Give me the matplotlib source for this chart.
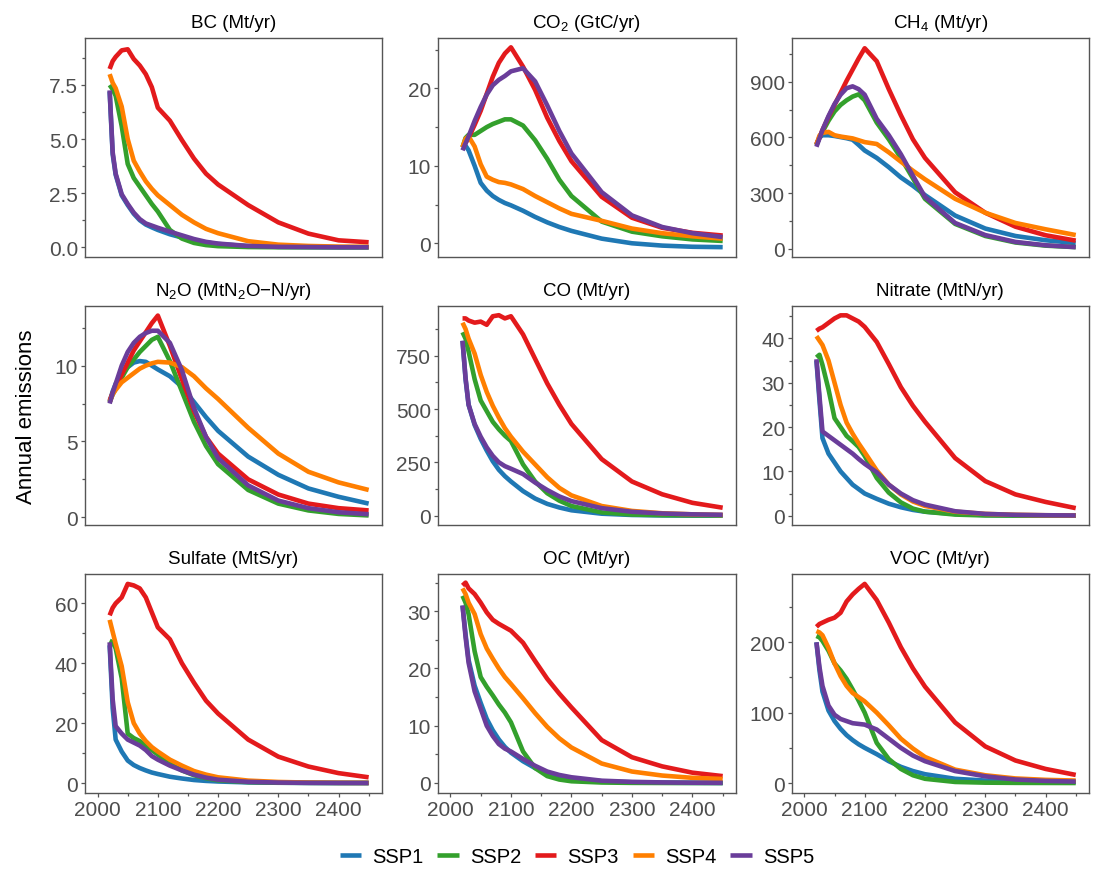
import matplotlib
matplotlib.use("Agg")
import matplotlib.pyplot as plt
from matplotlib.ticker import AutoMinorLocator, FormatStrFormatter, FixedLocator
from matplotlib.lines import Line2D

plt.rcParams['font.family'] = 'Liberation Sans'
plt.rcParams['mathtext.fontset'] = 'custom'
plt.rcParams['mathtext.rm'] = 'Liberation Sans'

# --- data ---
years = [2020, 2025, 2030, 2040, 2050, 2060, 2070, 2080, 2090, 2100, 2120,
         2140, 2160, 2180, 2200, 2250, 2300, 2350, 2400, 2450]

scenarios = ['SSP1', 'SSP2', 'SSP3', 'SSP4', 'SSP5']
colors = ['#1f78b4', '#33a02c', '#e31a1c', '#ff7f00', '#6a3d9a']

# each species: one list per scenario, SSP1..SSP5
bc = [
    [7.2, 4.3, 3.35, 2.4, 1.95, 1.55, 1.25, 1.05, 0.92, 0.8, 0.6, 0.45, 0.32, 0.22, 0.15, 0.05, 0.02, 0.01, 0.0, 0.0],
    [7.5, 7.3, 7.0, 5.6, 3.85, 3.2, 2.8, 2.4, 2.0, 1.65, 0.8, 0.4, 0.2, 0.1, 0.05, 0.01, 0.0, 0.0, 0.0, 0.0],
    [8.24, 8.6, 8.8, 9.1, 9.15, 8.7, 8.4, 8.0, 7.4, 6.45, 5.85, 4.95, 4.1, 3.4, 2.9, 1.95, 1.15, 0.63, 0.32, 0.23],
    [8.0, 7.6, 7.35, 6.5, 5.0, 4.0, 3.5, 3.05, 2.7, 2.4, 1.95, 1.5, 1.15, 0.85, 0.65, 0.28, 0.12, 0.06, 0.03, 0.02],
    [7.25, 4.4, 3.4, 2.45, 2.0, 1.6, 1.3, 1.1, 1.0, 0.9, 0.72, 0.55, 0.38, 0.25, 0.17, 0.06, 0.02, 0.01, 0.0, 0.0],
]
co2 = [
    [12.4, 12.6, 12.0, 10.0, 7.8, 6.8, 6.1, 5.6, 5.2, 4.9, 4.2, 3.4, 2.7, 2.1, 1.6, 0.6, 0.0, -0.3, -0.45, -0.5],
    [12.4, 13.6, 14.0, 14.0, 14.5, 15.0, 15.4, 15.7, 16.0, 16.0, 15.2, 13.3, 10.9, 8.2, 6.1, 2.8, 1.5, 0.9, 0.5, 0.3],
    [12.4, 13.0, 13.6, 15.3, 17.1, 19.3, 21.5, 23.3, 24.5, 25.3, 22.8, 19.8, 16.2, 13.2, 10.6, 6.0, 3.3, 2.0, 1.35, 1.0],
    [12.4, 13.5, 13.8, 12.5, 10.2, 8.6, 8.2, 7.9, 7.8, 7.6, 7.0, 6.1, 5.3, 4.5, 3.8, 2.9, 1.9, 1.3, 0.9, 0.6],
    [12.0, 12.9, 13.8, 15.8, 17.6, 19.2, 20.4, 21.1, 21.6, 22.2, 22.6, 20.9, 17.8, 14.5, 11.6, 6.6, 3.6, 2.1, 1.3, 0.8],
]
ch4 = [
    [560, 600, 612, 612, 608, 602, 596, 588, 560, 530, 490, 440, 385, 340, 290, 180, 110, 70, 47, 32],
    [560, 600, 630, 690, 740, 775, 800, 820, 832, 800, 680, 590, 490, 380, 270, 135, 70, 35, 18, 10],
    [565, 600, 640, 710, 775, 840, 905, 965, 1025, 1080, 1010, 860, 720, 590, 490, 305, 195, 120, 74, 45],
    [560, 610, 625, 630, 612, 605, 600, 595, 585, 575, 565, 520, 470, 421, 375, 270, 195, 140, 106, 75],
    [550, 595, 640, 715, 780, 830, 865, 875, 860, 830, 700, 612, 510, 394, 280, 140, 75, 38, 20, 10],
]
n2o = [
    [7.6, 8.3, 8.8, 9.5, 9.9, 10.2, 10.3, 10.25, 10.0, 9.75, 9.3, 8.6, 7.6, 6.6, 5.7, 4.0, 2.8, 1.9, 1.35, 0.9],
    [7.6, 8.1, 8.5, 9.2, 9.9, 10.4, 10.9, 11.3, 11.7, 11.9, 10.3, 8.3, 6.3, 4.7, 3.5, 1.8, 0.9, 0.45, 0.22, 0.12],
    [7.7, 8.2, 8.6, 9.4, 10.2, 11.0, 11.6, 12.2, 12.8, 13.3, 11.3, 9.1, 7.0, 5.3, 4.2, 2.5, 1.5, 0.9, 0.6, 0.45],
    [7.6, 8.1, 8.4, 8.9, 9.2, 9.5, 9.8, 10.0, 10.15, 10.25, 10.2, 9.9, 9.3, 8.5, 7.8, 5.9, 4.2, 3.0, 2.3, 1.8],
    [7.5, 8.2, 8.8, 10.0, 10.9, 11.5, 11.9, 12.15, 12.3, 12.3, 11.5, 9.7, 7.2, 5.3, 3.9, 2.1, 1.1, 0.6, 0.33, 0.2],
]
co = [
    [820, 640, 520, 425, 360, 305, 255, 215, 185, 160, 115, 80, 55, 38, 25, 9, 3, 1, 0, 0],
    [860, 830, 770, 640, 540, 490, 440, 405, 375, 350, 240, 160, 105, 70, 45, 15, 5, 2, 1, 1],
    [925, 925, 915, 905, 910, 895, 935, 940, 925, 935, 850, 735, 620, 520, 430, 265, 160, 100, 60, 37],
    [905, 875, 830, 760, 660, 580, 515, 460, 410, 370, 300, 240, 180, 130, 95, 45, 22, 11, 6, 3],
    [820, 645, 520, 430, 370, 320, 280, 250, 232, 220, 195, 155, 120, 90, 68, 35, 18, 10, 6, 4],
]
nitrate = [
    [35.0, 26.0, 17.5, 14.0, 12.0, 10.0, 8.5, 7.0, 6.0, 5.0, 3.8, 2.7, 1.9, 1.3, 0.9, 0.4, 0.15, 0.05, 0.02, 0.0],
    [35.7, 36.3, 34.0, 28.5, 22.0, 20.0, 18.0, 16.8, 15.5, 13.5, 8.5, 5.2, 3.0, 1.6, 0.9, 0.25, 0.05, 0.02, 0.0, 0.0],
    [41.7, 42.2, 42.5, 43.5, 44.5, 45.2, 45.2, 44.5, 43.8, 42.6, 39.2, 34.2, 29.0, 24.8, 21.2, 13.0, 7.8, 4.8, 3.1, 1.7],
    [40.5, 39.5, 38.5, 35.0, 30.0, 25.0, 21.0, 18.5, 16.3, 14.3, 10.2, 7.0, 4.8, 3.2, 2.2, 0.9, 0.4, 0.2, 0.1, 0.05],
    [35.3, 27.0, 19.0, 18.0, 17.0, 16.0, 15.0, 14.0, 12.8, 11.7, 9.8, 7.0, 5.0, 3.5, 2.5, 1.0, 0.4, 0.2, 0.1, 0.05],
]
sulfate = [
    [46.0, 25.0, 14.5, 10.5, 7.5, 6.0, 5.0, 4.2, 3.5, 3.0, 2.1, 1.5, 1.0, 0.7, 0.5, 0.2, 0.08, 0.03, 0.01, 0.0],
    [47.5, 47.0, 45.0, 35.0, 16.5, 15.0, 14.0, 12.5, 11.0, 9.5, 6.5, 4.2, 2.6, 1.6, 0.9, 0.3, 0.1, 0.05, 0.0, 0.0],
    [56.0, 58.5, 60.0, 62.0, 66.5, 66.0, 65.0, 62.0, 57.0, 52.0, 48.0, 40.0, 33.5, 27.5, 23.2, 14.5, 8.8, 5.5, 3.3, 1.9],
    [54.5, 50.5, 46.5, 39.0, 27.0, 20.0, 16.5, 14.0, 12.0, 10.5, 7.8, 5.8, 4.0, 2.8, 1.9, 0.8, 0.35, 0.15, 0.08, 0.05],
    [47.0, 28.0, 19.0, 16.5, 14.5, 13.5, 12.5, 11.0, 9.0, 7.8, 5.8, 4.2, 2.8, 1.8, 1.1, 0.4, 0.15, 0.05, 0.02, 0.0],
]
oc = [
    [31.0, 26.0, 21.5, 17.0, 14.0, 11.2, 9.2, 7.6, 6.3, 5.3, 3.8, 2.6, 1.8, 1.2, 0.8, 0.3, 0.12, 0.05, 0.02, 0.0],
    [32.7, 31.5, 29.5, 23.0, 18.5, 16.8, 15.3, 13.7, 12.3, 10.6, 5.5, 2.6, 1.2, 0.6, 0.3, 0.08, 0.02, 0.0, 0.0, 0.0],
    [34.5, 35.0, 34.0, 33.0, 31.5, 29.8, 28.5, 27.8, 27.2, 26.6, 24.5, 21.3, 18.2, 15.6, 13.2, 7.5, 4.5, 2.9, 1.8, 1.2],
    [34.0, 33.0, 31.5, 29.5, 26.0, 23.5, 21.7, 20.0, 18.5, 17.3, 14.8, 12.2, 9.8, 7.8, 6.2, 3.4, 2.0, 1.3, 0.9, 0.7],
    [31.0, 25.5, 21.0, 16.0, 13.0, 10.0, 8.2, 6.8, 6.0, 5.5, 4.2, 3.0, 2.0, 1.4, 1.0, 0.4, 0.2, 0.1, 0.05, 0.03],
]
voc = [
    [200, 160, 130, 103, 88, 77, 68, 61, 55, 50, 41, 31, 23, 17, 12.5, 6, 3.5, 2.5, 2, 1.5],
    [209, 207, 202, 188, 170, 160, 148, 133, 117, 100, 57, 34, 20, 11, 6, 1.5, 0.5, 0.2, 0.1, 0],
    [222, 226, 228, 232, 235, 242, 258, 268, 276, 283, 260, 228, 193, 163, 137, 86, 52, 32, 20, 11.5],
    [216, 214, 210, 192, 170, 152, 138, 128, 122, 116, 100, 82, 63, 49, 37, 19, 11, 6.5, 4.5, 3.5],
    [200, 165, 138, 110, 97, 91, 88, 85, 84, 83, 76, 63, 50, 39, 31, 17, 9.5, 5, 3, 2],
]

panel_data = [bc, co2, ch4, n2o, co, nitrate, sulfate, oc, voc]
titles = ['BC (Mt/yr)', r'CO$_\mathregular{2}$ (GtC/yr)', r'CH$_\mathregular{4}$ (Mt/yr)',
          r'N$_\mathregular{2}$O (MtN$_\mathregular{2}$O−N/yr)', 'CO (Mt/yr)', 'Nitrate (MtN/yr)',
          'Sulfate (MtS/yr)', 'OC (Mt/yr)', 'VOC (Mt/yr)']
yticks = [[0, 2.5, 5, 7.5], [0, 10, 20], [0, 300, 600, 900],
          [0, 5, 10], [0, 250, 500, 750], [0, 10, 20, 30, 40],
          [0, 20, 40, 60], [0, 10, 20, 30], [0, 100, 200]]
ylims = [(-0.45, 9.67), (-1.77, 26.5), (-43, 1135),
         (-0.51, 13.93), (-44, 983), (-2.1, 47.3),
         (-3.34, 69.8), (-1.75, 36.5), (-14.2, 297)]
xticks = [2000, 2100, 2200, 2300, 2400]

# --- layout ---
fig = plt.figure(figsize=(10.99, 8.79), dpi=100)
lefts = [0.0773, 0.3983, 0.7204]
widths = [0.2702, 0.2714, 0.2705]
bottoms = [0.7065, 0.4016, 0.0967]
height = 0.2491
grey = '#4d4d4d'

for i, series in enumerate(panel_data):
    row, col = divmod(i, 3)
    ax = fig.add_axes([lefts[col], bottoms[row], widths[col], height])
    for vals, c in zip(series, colors):
        ax.plot(years, vals, color=c, lw=3.3, solid_capstyle='butt', solid_joinstyle='round')
    ax.set_xlim(1979, 2472)
    ax.set_ylim(*ylims[i])
    ax.yaxis.set_major_locator(FixedLocator(yticks[i]))
    ax.yaxis.set_minor_locator(AutoMinorLocator(2))
    if i == 0:
        ax.yaxis.set_major_formatter(FormatStrFormatter('%.1f'))
    for s in ax.spines.values():
        s.set_color('#555555')
        s.set_linewidth(1.0)
    ax.tick_params(axis='y', which='major', length=3, width=0.9, color='#555555',
                   labelsize=15, labelcolor=grey, pad=2)
    ax.tick_params(axis='y', which='minor', length=2, width=0.9, color='#555555')
    if row == 2:
        ax.set_xticks(xticks)
        ax.xaxis.set_minor_locator(AutoMinorLocator(2))
        ax.tick_params(axis='x', which='major', length=3, width=0.9, color='#555555',
                       labelsize=15, labelcolor=grey, pad=2)
        ax.tick_params(axis='x', which='minor', length=2, width=0.9, color='#555555')
    else:
        ax.tick_params(axis='x', which='both', bottom=False, labelbottom=False)
    ax.set_title(titles[i], fontsize=13.5, pad=8, color='black')

fig.text(0.0245, 0.526, 'Annual emissions', rotation=90, ha='center', va='center',
         fontsize=16, color='black')

handles = [Line2D([0], [0], color=c, lw=3.3, solid_capstyle='butt') for c in colors]
fig.legend(handles, scenarios, loc='center', bbox_to_anchor=(0.525, 0.024), ncol=5,
           frameon=False, fontsize=14.5, handlelength=1.05, handletextpad=0.56,
           columnspacing=0.69)

fig.savefig('out.png', dpi=100)
